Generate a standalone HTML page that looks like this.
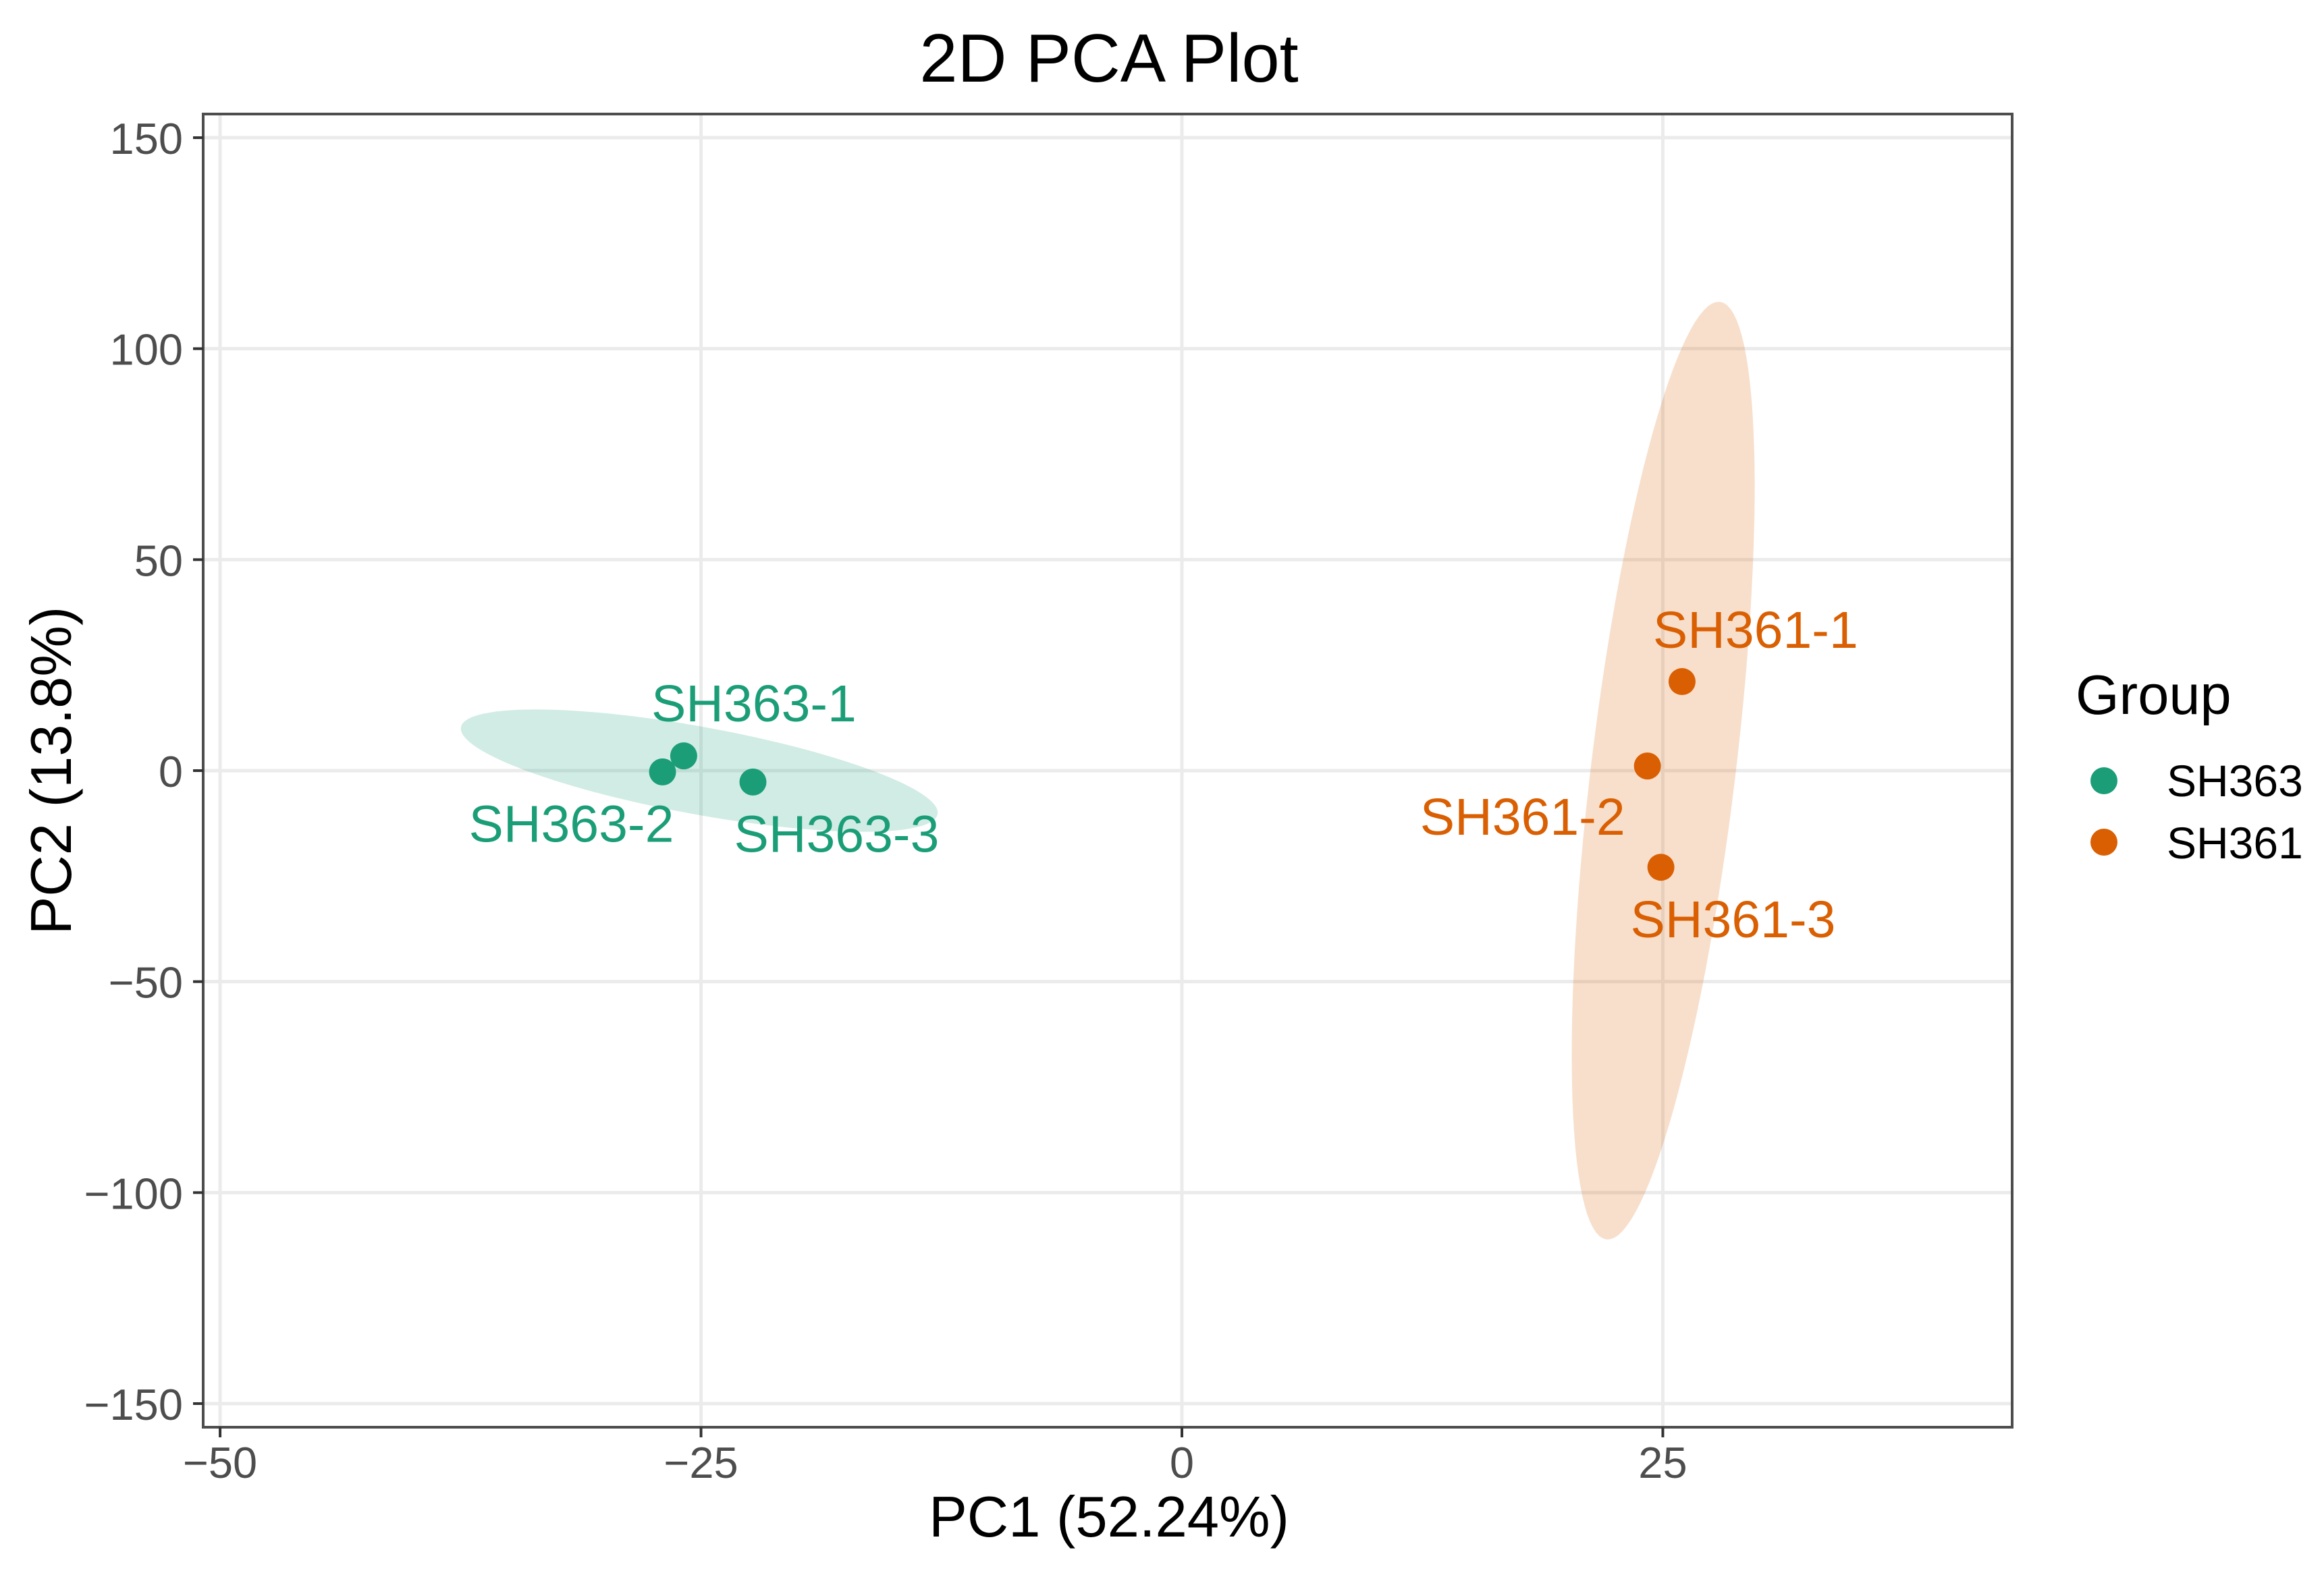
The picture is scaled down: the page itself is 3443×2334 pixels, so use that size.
<!DOCTYPE html>
<html><head><meta charset="utf-8"><style>
html,body{margin:0;padding:0;background:#fff}
svg{display:block;font-family:"Liberation Sans",sans-serif}
</style></head><body>
<svg id="chart" width="3443" height="2334" viewBox="0 0 3443 2334" xmlns="http://www.w3.org/2000/svg">
<text x="1643" y="121" font-size="101" text-anchor="middle" fill="#000">2D PCA Plot</text>
<rect x="301" y="169" width="2680" height="1946" fill="#fff"/>
<g id="grid"></g>
<g id="ellipses"></g>
<g id="points"></g>
<g id="labels"></g>
<rect x="301" y="169" width="2680" height="1946" fill="none" stroke="#4d4d4d" stroke-width="4"/>
<g id="axes"></g>
<text x="1643" y="2277" font-size="85" text-anchor="middle" fill="#000">PC1 (52.24%)</text>
<text transform="translate(105,1142) rotate(-90)" font-size="85" text-anchor="middle" fill="#000">PC2 (13.8%)</text>
<g>
<text x="3075" y="1058" font-size="83" fill="#000">Group</text>
<g><circle cx="3117" cy="1157" r="20" fill="#1b9e77"/><text x="3210" y="1180" font-size="66" fill="#000">SH363</text></g>
<g><circle cx="3117" cy="1248" r="20" fill="#d95f02"/><text x="3210" y="1272" font-size="66" fill="#000">SH361</text></g>
</g>
</svg>
<script>
const sampleNames = ["SH363-1","SH363-2","SH363-3","SH361-1","SH361-2","SH361-3"];
const sampleGroups = ["SH363","SH363","SH363","SH361","SH361","SH361"];
const pc1Values = [-25.9,-27.0,-22.3,26.0,24.2,24.9];
const pc2Values = [3.5,-0.3,-2.7,21.1,1.1,-22.9];
const xTicks = [-50,-25,0,25];
const xTickLabels = ["\u221250","\u221225","0","25"];
const yTicks = [-150,-100,-50,0,50,100,150];
const yTickLabels = ["\u2212150","\u2212100","\u221250","0","50","100","150"];
const groupNames = ["SH363","SH361"];
const ellipseCenterX = [-25.09,25.02];
const ellipseCenterY = [0,0];
const ellipseMajorX = [12.39,2.95];
const ellipseMajorY = [-10.3,111.1];
const ellipseMinorX = [-0.41,3.73];
const ellipseMinorY = [-10.2,-2.03];
// label offsets in data units relative to points
const labelDx = [3.65,-4.74,4.35,3.82,-6.49,3.75];
const labelDy = [8.16,-16.6,-16.6,8.0,-16.3,-16.6];

const colors = {SH363:"#1b9e77", SH361:"#d95f02"};
const NS = "http://www.w3.org/2000/svg";
const L=301,R=2981,T=169,B=2115;
const X0=-50.88,X1=43.16,Y0=-155.6,Y1=155.6;
const sx = v => L + (v - X0) / (X1 - X0) * (R - L);
const sy = v => B - (v - Y0) / (Y1 - Y0) * (B - T);
function mk(tag, attrs, parent){const e=document.createElementNS(NS,tag);for(const k in attrs)e.setAttribute(k,attrs[k]);parent.appendChild(e);return e;}

const grid=document.getElementById('grid'), axes=document.getElementById('axes');
xTicks.forEach((t,i)=>{
  const g=mk('line',{x1:sx(t),x2:sx(t),y1:T,y2:B,stroke:'#ebebeb','stroke-width':5},grid);
  
  
  const tk=mk('line',{x1:sx(t),x2:sx(t),y1:B,y2:B+15,stroke:'#333','stroke-width':4},axes);
  
  
  const tx=mk('text',{x:sx(t),y:2190,'font-size':65,'text-anchor':'middle',fill:'#4d4d4d'},axes);
  tx.textContent=xTickLabels[i];
  
  
});
yTicks.forEach((t,i)=>{
  const g=mk('line',{x1:L,x2:R,y1:sy(t),y2:sy(t),stroke:'#ebebeb','stroke-width':5},grid);
  
  
  const tk=mk('line',{x1:L-15,x2:L,y1:sy(t),y2:sy(t),stroke:'#333','stroke-width':4},axes);
  
  
  const tx=mk('text',{x:271,y:sy(t)+24,'font-size':65,'text-anchor':'end',fill:'#4d4d4d'},axes);
  tx.textContent=yTickLabels[i];
  
  
});
const eg=document.getElementById('ellipses');
groupNames.forEach((gname,i)=>{
  let d='';
  for(let k=0;k<=120;k++){
    const a=k/120*2*Math.PI;
    const x=ellipseCenterX[i]+Math.cos(a)*ellipseMajorX[i]+Math.sin(a)*ellipseMinorX[i];
    const y=ellipseCenterY[i]+Math.cos(a)*ellipseMajorY[i]+Math.sin(a)*ellipseMinorY[i];
    d+=(k?'L':'M')+sx(x).toFixed(1)+','+sy(y).toFixed(1);
  }
  const p=mk('path',{d:d+'Z',fill:colors[gname],'fill-opacity':0.2},eg);
  
  
});
const pg=document.getElementById('points'), lg=document.getElementById('labels');
sampleNames.forEach((n,i)=>{
  const c=mk('circle',{cx:sx(pc1Values[i]),cy:sy(pc2Values[i]),r:20,fill:colors[sampleGroups[i]]},pg);
  
  
  const t=mk('text',{x:sx(pc1Values[i]+labelDx[i]),y:sy(pc2Values[i]+labelDy[i]),'font-size':77,'text-anchor':'middle',fill:colors[sampleGroups[i]]},lg);
  t.textContent=n;
  
  
});
</script>
</body></html>
